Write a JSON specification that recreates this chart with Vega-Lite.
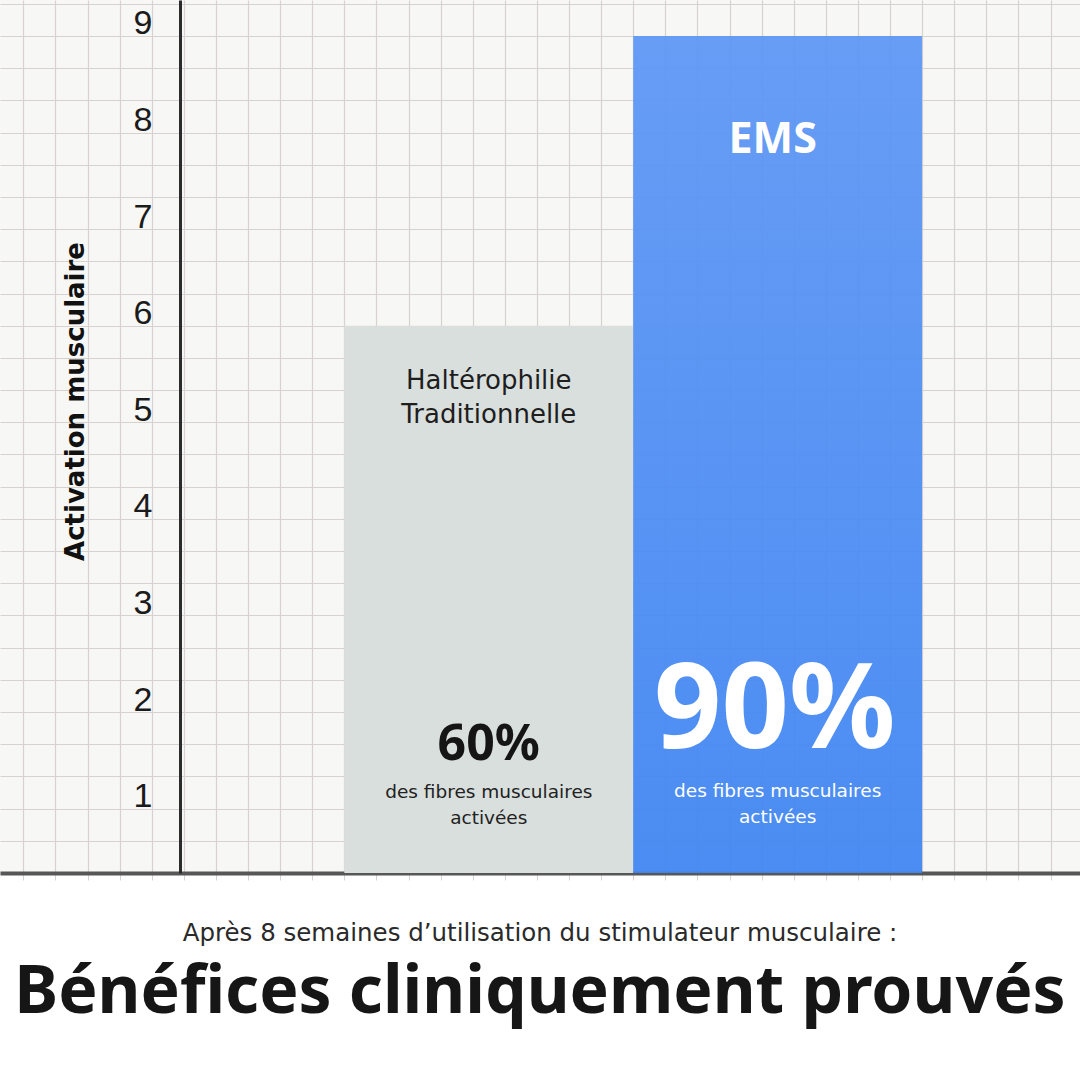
{
  "$schema": "https://vega.github.io/schema/vega-lite/v6.json",
  "width": 1080,
  "height": 873,
  "autosize": {"type": "none"},
  "padding": {"left": 0, "top": 0, "right": 0, "bottom": 207},
  "background": "#ffffff",
  "view": {"fill": "#f7f7f6", "stroke": null},
  "title": {
    "text": "Après 8 semaines d’utilisation du stimulateur musculaire :",
    "subtitle": "Bénéfices cliniquement prouvés",
    "orient": "bottom",
    "anchor": "middle",
    "font": "DejaVu Sans",
    "fontSize": 24.5,
    "fontWeight": "normal",
    "color": "#2a2a2a",
    "subtitleFont": "Noto Sans",
    "subtitleFontSize": 66,
    "subtitleFontWeight": "bold",
    "subtitleColor": "#161616",
    "offset": 41,
    "subtitlePadding": 15
  },
  "data": {
    "values": [
      {"methode": "Haltérophilie Traditionnelle", "nom": "Haltérophilie\nTraditionnelle", "activation": 6, "pct": "60%", "detail": "des fibres musculaires\nactivées"},
      {"methode": "EMS", "nom": "EMS", "activation": 9, "pct": "90%", "detail": "des fibres musculaires\nactivées"}
    ]
  },
  "resolve": {"scale": {"x": "independent"}, "axis": {"x": "independent"}},
  "layer": [
    {
      "mark": {"type": "point", "opacity": 0},
      "encoding": {
        "x": {
          "datum": 0,
          "type": "quantitative",
          "scale": {"domain": [-0.726, 32.919], "nice": false, "zero": false},
          "axis": {
            "orient": "bottom",
            "values": [0, 1, 2, 3, 4, 5, 6, 7, 8, 9, 10, 11, 12, 13, 14, 15, 16, 17, 18, 19, 20, 21, 22, 23, 24, 25, 26, 27, 28, 29, 30, 31, 32],
            "labels": false,
            "title": null,
            "grid": true,
            "gridColor": "#d8d2ce",
            "gridWidth": 1.2,
            "ticks": true,
            "tickSize": 7,
            "tickColor": "#d8d2ce",
            "domain": true,
            "domainColor": "#575757",
            "domainWidth": 4
          }
        }
      }
    },
    {
      "layer": [
        {
          "transform": [{"filter": "datum.methode === 'Haltérophilie Traditionnelle'"}],
          "mark": {"type": "bar", "clip": true, "color": "#d9dfdc"}
        },
        {
          "transform": [{"filter": "datum.methode === 'EMS'"}],
          "mark": {
            "type": "bar",
            "clip": true,
            "opacity": 0.94,
            "color": {
              "gradient": "linear",
              "x1": 0, "y1": 0, "x2": 0, "y2": 1,
              "stops": [
                {"offset": 0, "color": "#5e97f5"},
                {"offset": 1, "color": "#3f85f2"}
              ]
            }
          }
        },
        {
          "transform": [{"filter": "datum.methode === 'Haltérophilie Traditionnelle'"}],
          "mark": {"type": "text", "align": "center", "baseline": "alphabetic", "dy": 63, "font": "DejaVu Sans", "fontSize": 26, "color": "#1e1e1e", "lineBreak": "\n", "lineHeight": 34},
          "encoding": {"text": {"field": "nom"}}
        },
        {
          "transform": [{"filter": "datum.methode === 'EMS'"}],
          "mark": {"type": "text", "align": "center", "baseline": "alphabetic", "dy": 117, "font": "Noto Sans", "fontWeight": "bold", "fontSize": 43, "color": "#ffffff", "dx": -5},
          "encoding": {"text": {"field": "nom"}}
        },
        {
          "transform": [{"filter": "datum.methode === 'Haltérophilie Traditionnelle'"}],
          "mark": {"type": "text", "align": "center", "baseline": "alphabetic", "dy": 434, "font": "Noto Sans", "fontWeight": "bold", "fontSize": 50, "color": "#151515"},
          "encoding": {"text": {"field": "pct"}}
        },
        {
          "transform": [{"filter": "datum.methode === 'EMS'"}],
          "mark": {"type": "text", "align": "center", "baseline": "alphabetic", "dy": 712, "font": "Noto Sans", "fontWeight": "bold", "fontSize": 118, "color": "#ffffff", "dx": -3},
          "encoding": {"text": {"field": "pct"}}
        },
        {
          "transform": [{"filter": "datum.methode === 'Haltérophilie Traditionnelle'"}],
          "mark": {"type": "text", "align": "center", "baseline": "alphabetic", "dy": 472, "font": "DejaVu Sans", "fontSize": 18.5, "color": "#222222", "lineBreak": "\n", "lineHeight": 26},
          "encoding": {"text": {"field": "detail"}}
        },
        {
          "transform": [{"filter": "datum.methode === 'EMS'"}],
          "mark": {"type": "text", "align": "center", "baseline": "alphabetic", "dy": 761, "font": "DejaVu Sans", "fontSize": 18.5, "color": "#ffffff", "lineBreak": "\n", "lineHeight": 26},
          "encoding": {"text": {"field": "detail"}}
        }
      ],
      "encoding": {
        "x": {
          "field": "methode",
          "type": "nominal",
          "sort": null,
          "scale": {"domain": ["Haltérophilie Traditionnelle", "EMS"], "paddingInner": 0, "paddingOuter": 0.8692, "align": 0.6856},
          "axis": null
        },
        "y": {
          "field": "activation",
          "type": "quantitative",
          "scale": {"domain": [0.3333, 9.3727], "nice": false, "zero": false},
          "axis": {
            "offset": -180,
            "values": [0.3333, 0.6667, 1, 1.3333, 1.6667, 2, 2.3333, 2.6667, 3, 3.3333, 3.6667, 4, 4.3333, 4.6667, 5, 5.3333, 5.6667, 6, 6.3333, 6.6667, 7, 7.3333, 7.6667, 8, 8.3333, 8.6667, 9, 9.3333],
            "labelExpr": "abs(datum.value - round(datum.value)) < 0.01 ? format(round(datum.value), 'd') : ''",
            "labelOverlap": false,
            "labelBound": false,
            "labelOffset": -12,
            "labelPadding": 28,
            "labelFont": "Liberation Sans",
            "labelFontSize": 34,
            "labelColor": "#1b1b1b",
            "labelBaseline": "middle",
            "ticks": false,
            "domainColor": "#2b2b2b",
            "domainWidth": 3,
            "grid": true,
            "gridColor": "#d8d2ce",
            "gridWidth": 1.2,
            "title": "Activation musculaire",
            "titleFont": "DejaVu Sans",
            "titleFontWeight": "bold",
            "titleFontSize": 26,
            "titleColor": "#111111",
            "titleAngle": 270,
            "titleX": -105,
            "titleY": 401,
            "titleAlign": "center",
            "titleBaseline": "middle"
          }
        }
      }
    }
  ]
}
